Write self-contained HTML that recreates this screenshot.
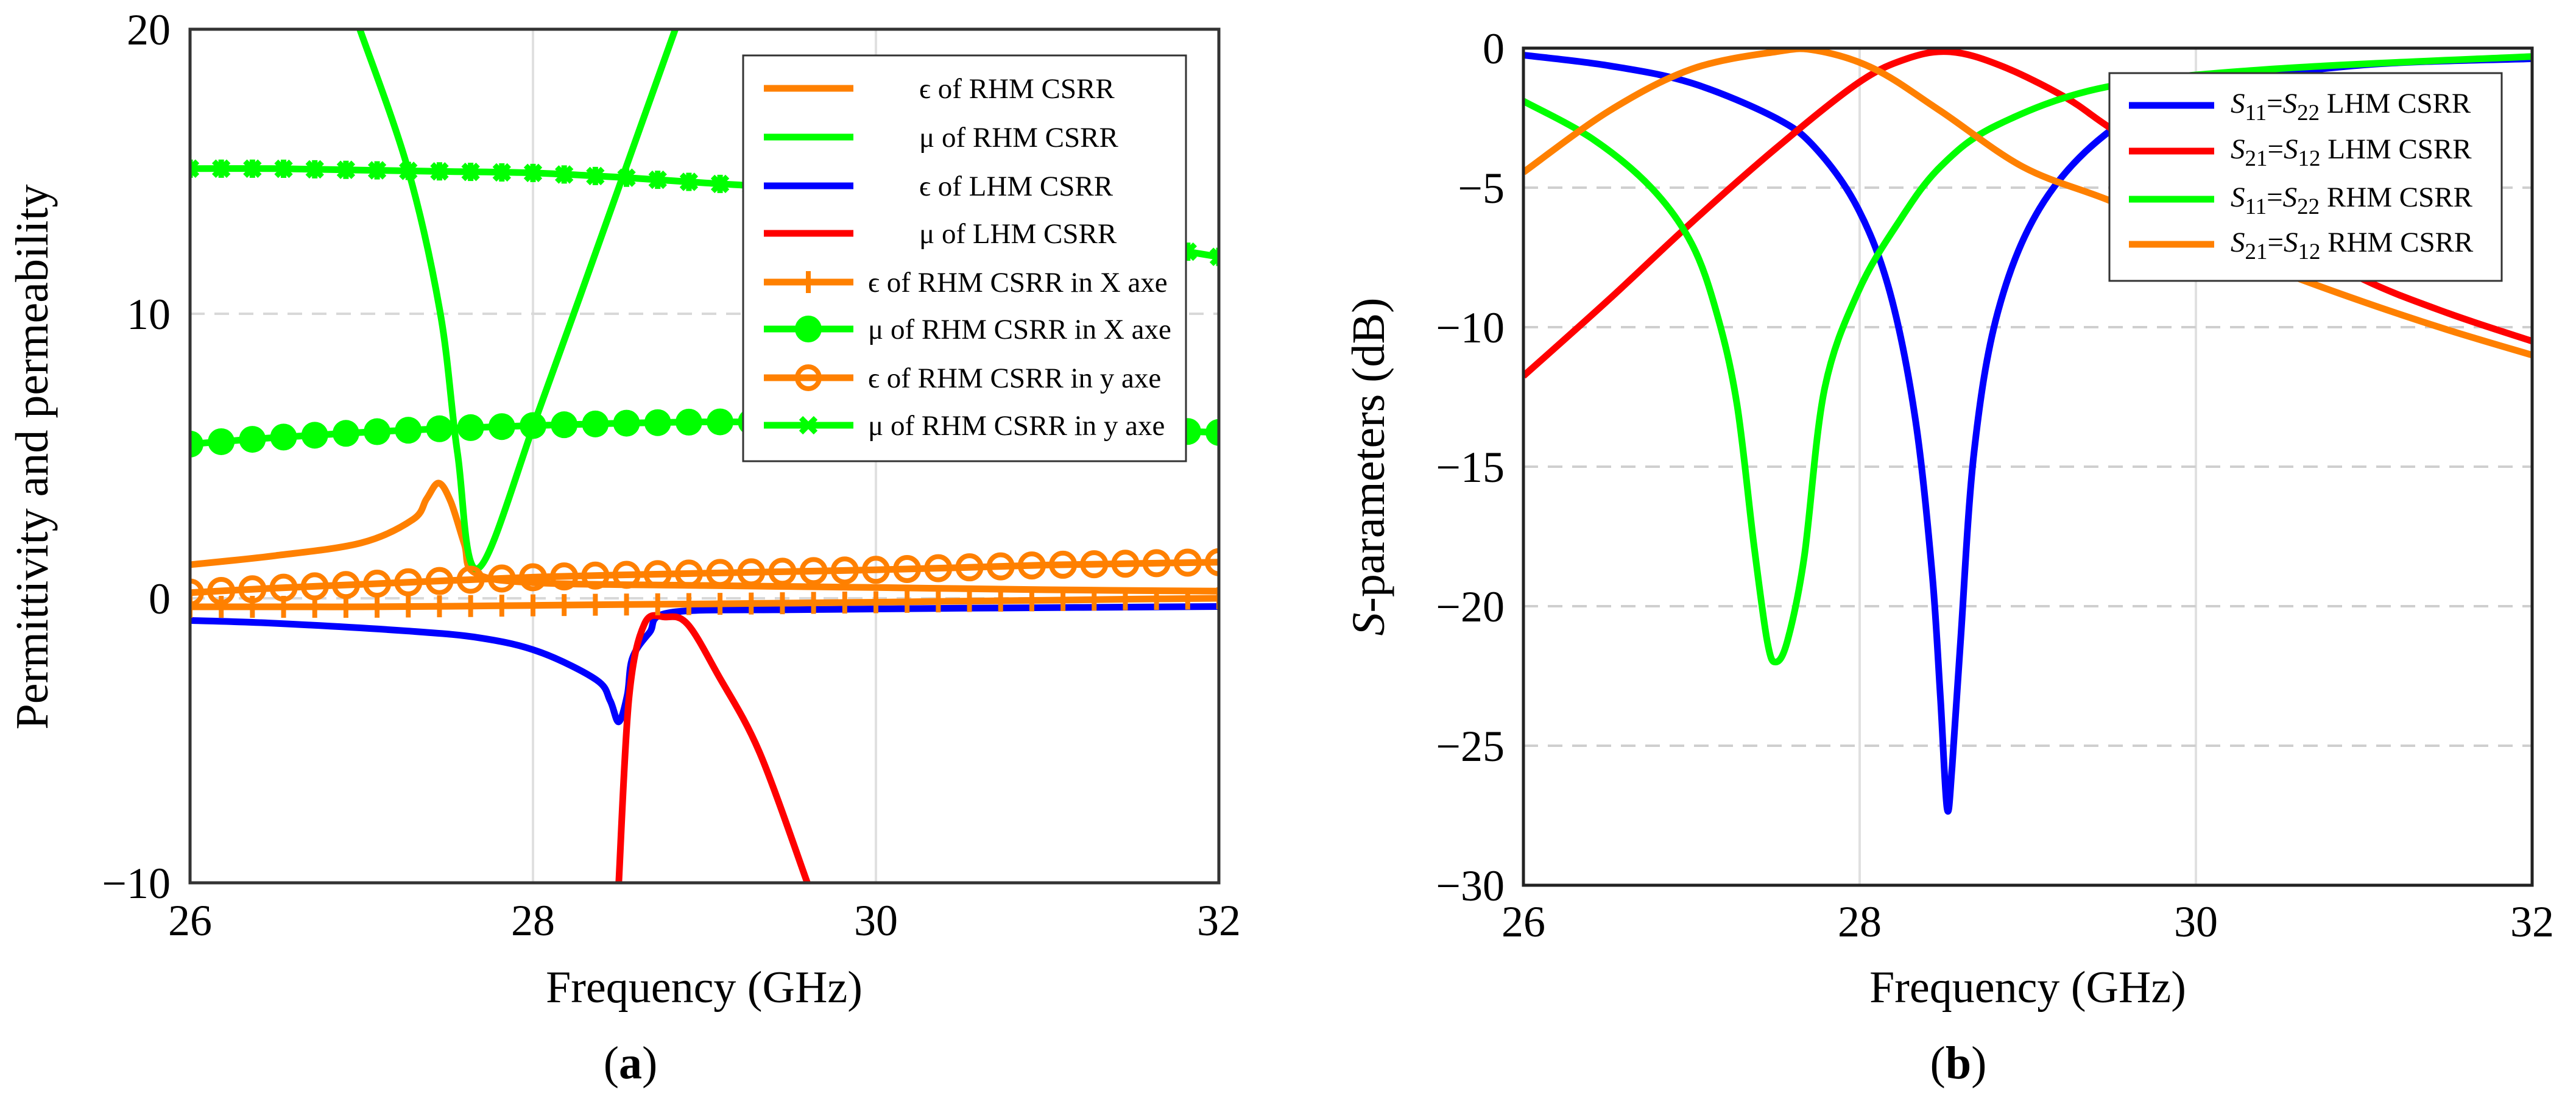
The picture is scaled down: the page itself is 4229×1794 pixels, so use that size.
<!DOCTYPE html>
<html><head><meta charset="utf-8"><style>
html,body{margin:0;padding:0;background:#fff;}
svg{display:block;font-family:"Liberation Serif",serif;}
</style></head><body>
<svg id="fig" width="4229" height="1794" viewBox="0 0 4229 1794" xmlns="http://www.w3.org/2000/svg">
<g id="pa"></g>
<g id="pb"></g>
</svg>
<script>
// ---------- Chart (a) data ----------
const aEpsRhmF = [26, 26.5, 27, 27.3, 27.38, 27.45, 27.52, 27.6, 27.66, 28, 29, 30, 31, 32];
const aEpsRhmV = [1.18, 1.5, 1.95, 2.77, 3.5, 4.05, 3.4, 1.9, 0.9, 0.55, 0.45, 0.38, 0.3, 0.25];
const aMuRhmF = [26.99, 27.27, 27.46, 27.56, 27.68, 28.04, 28.51, 28.83];
const aMuRhmV = [20, 15.1, 10, 5.1, 1.05, 6.7, 14.6, 20];
const aEpsLhmF = [26, 26.5, 27.27, 27.7, 28.04, 28.37, 28.45, 28.5, 28.55, 28.58, 28.68, 28.8, 29.5, 30.5, 32];
const aEpsLhmV = [-0.78, -0.88, -1.15, -1.4, -1.89, -2.87, -3.6, -4.34, -3.4, -2.1, -1.2, -0.5, -0.4, -0.35, -0.29];
const aMuLhmF = [28.5, 28.56, 28.65, 28.77, 28.9, 29.08, 29.32, 29.6];
const aMuLhmV = [-10, -3.5, -0.9, -0.66, -0.9, -2.7, -5.4, -10];
const aMarkF = [26, 26.5, 27, 27.5, 28, 28.5, 29, 29.5, 30, 30.5, 31, 31.5, 32];
const aEpsXV = [-0.3, -0.3, -0.3, -0.28, -0.25, -0.22, -0.2, -0.17, -0.14, -0.1, -0.07, -0.03, 0.0];
const aMuXV = [5.42, 5.65, 5.83, 5.97, 6.07, 6.15, 6.2, 6.2, 6.15, 6.08, 6.0, 5.92, 5.83];
const aEpsYV = [0.2, 0.36, 0.49, 0.62, 0.74, 0.82, 0.88, 0.94, 1.0, 1.08, 1.17, 1.22, 1.27];
const aMuYV = [15.1, 15.1, 15.05, 15.0, 14.95, 14.8, 14.6, 14.4, 14.0, 13.5, 13.0, 12.5, 12.0];
const aYTicks = [-10, 0, 10, 20];
const aXTicks = [26, 28, 30, 32];
// ---------- Chart (b) data ----------
const bS11LF = [26, 26.51, 27, 27.5, 27.74, 27.99, 28.18, 28.33, 28.43, 28.48, 28.52, 28.55, 28.6, 28.68, 28.82, 29.07, 29.46, 29.96, 30.94, 32];
const bS11LV = [-0.25, -0.63, -1.25, -2.5, -3.6, -5.75, -8.75, -13.25, -18.75, -23.25, -27.25, -25.75, -21.25, -14.5, -9.5, -5.75, -3.1, -1.5, -0.63, -0.38];
const bS21LF = [26, 26.51, 27, 27.5, 27.99, 28.28, 28.54, 28.84, 29.22, 29.5, 30, 30.5, 31, 31.5, 32];
const bS21LV = [-11.75, -9, -6.25, -3.6, -1.25, -0.38, -0.13, -0.63, -1.75, -2.9, -4.8, -6.6, -8.3, -9.5, -10.5];
const bS11RF = [26, 26.41, 26.76, 27, 27.15, 27.27, 27.37, 27.45, 27.5, 27.57, 27.67, 27.79, 27.99, 28.23, 28.48, 28.82, 29.46, 30.45, 32];
const bS11RV = [-1.9, -3.25, -5, -7, -9.5, -12.75, -17.75, -21.25, -22, -21.25, -18.25, -12.25, -8.75, -6.25, -4.25, -2.75, -1.4, -0.75, -0.3];
const bS21RF = [26, 26.51, 27, 27.5, 27.74, 28.09, 28.48, 28.97, 29.46, 30, 30.5, 31, 31.5, 32];
const bS21RV = [-4.45, -2.25, -0.75, -0.13, -0.08, -0.75, -2.25, -4.25, -5.4, -6.7, -8.0, -9.1, -10.1, -11.0];
const bYTicks = [-30, -25, -20, -15, -10, -5, 0];
const bXTicks = [26, 28, 30, 32];

const NS = "http://www.w3.org/2000/svg";
function mk(parent, tag, attrs, text) {
  const e = document.createElementNS(NS, tag);
  for (const k in attrs) e.setAttribute(k, attrs[k]);
  if (text !== undefined) e.textContent = text;
  parent.appendChild(e);
  return e;
}
function axes(x0, x1, y0, y1, fmin, fmax, vmin, vmax) {
  return {
    x: f => x0 + (f - fmin) / (fmax - fmin) * (x1 - x0),
    y: v => y1 - (v - vmin) / (vmax - vmin) * (y1 - y0),
    x0, x1, y0, y1
  };
}
function pts(ax, F, V) { return F.map((f, i) => ax.x(f).toFixed(1) + "," + ax.y(V[i]).toFixed(1)).join(" "); }
function smoothPath(ax, F, V) {
  const P = F.map((f, i) => [ax.x(f), ax.y(V[i])]);
  let d = "M" + P[0][0].toFixed(1) + "," + P[0][1].toFixed(1);
  for (let i = 0; i < P.length - 1; i++) {
    const p0 = P[Math.max(0, i - 1)], p1 = P[i], p2 = P[i + 1], p3 = P[Math.min(P.length - 1, i + 2)];
    const c1 = [p1[0] + (p2[0] - p0[0]) / 6, p1[1] + (p2[1] - p0[1]) / 6];
    const c2 = [p2[0] - (p3[0] - p1[0]) / 6, p2[1] - (p3[1] - p1[1]) / 6];
    d += "C" + c1.map(v => v.toFixed(1)).join(",") + " " + c2.map(v => v.toFixed(1)).join(",") + " " + p2[0].toFixed(1) + "," + p2[1].toFixed(1);
  }
  return d;
}

// ---------- Chart (a) ----------
const A = document.getElementById("pa");
const ax = axes(312, 2001, 48, 1449, 26, 32, -10, 20);
const clipA = mk(A, "clipPath", {id: "ca"});
mk(clipA, "rect", {x: ax.x0, y: ax.y0, width: ax.x1 - ax.x0, height: ax.y1 - ax.y0});
aXTicks.slice(1, -1).forEach(t => {
  const g = mk(A, "line", {x1: ax.x(t), x2: ax.x(t), y1: ax.y0, y2: ax.y1, stroke: "#e0e0e0", "stroke-width": 4});
  
  
});
aYTicks.slice(1, -1).forEach(t => {
  const g = mk(A, "line", {x1: ax.x0, x2: ax.x1, y1: ax.y(t), y2: ax.y(t), stroke: "#d8d8d8", "stroke-width": 4, "stroke-dasharray": "24 16"});
  
  
});
const gA = mk(A, "g", {"clip-path": "url(#ca)"});
function lineA(F, V, col, name) {
  const p = mk(gA, "path", {d: smoothPath(ax, F, V), fill: "none", stroke: col, "stroke-width": 11, "stroke-linejoin": "round"});
  
  
}
lineA(aEpsRhmF, aEpsRhmV, "#ff8000", "eps-rhm-line");
lineA(aMuRhmF, aMuRhmV, "#00ff00", "mu-rhm-line");
lineA(aEpsLhmF, aEpsLhmV, "#0000ff", "eps-lhm-line");
lineA(aMuLhmF, aMuLhmV, "#ff0000", "mu-lhm-line");
function interp(F, V, f) {
  for (let i = 0; i < F.length - 1; i++) if (f >= F[i] && f <= F[i + 1]) return V[i] + (V[i + 1] - V[i]) * (f - F[i]) / (F[i + 1] - F[i]);
  return V[V.length - 1];
}
const markStep = 6 / 33;
function markerSeries(V, col, kind, name) {
  const p = mk(gA, "path", {d: smoothPath(ax, aMarkF, V), fill: "none", stroke: col, "stroke-width": 11});
  
  
  for (let k = 0; k <= 33; k++) {
    const f = 26 + k * markStep;
    const cx = ax.x(f), cy = ax.y(interp(aMarkF, V, f));
    let m;
    if (kind === "plus") {
      m = mk(gA, "path", {d: `M${cx - 14},${cy}H${cx + 14}M${cx},${cy - 18}V${cy + 18}`, stroke: col, "stroke-width": 8});
    } else if (kind === "dot") {
      m = mk(gA, "circle", {cx, cy, r: 22, fill: col});
    } else if (kind === "ring") {
      m = mk(gA, "circle", {cx, cy, r: 19, fill: "none", stroke: col, "stroke-width": 8});
    } else {
      m = mk(gA, "path", {d: `M${cx - 12},${cy - 12}L${cx + 12},${cy + 12}M${cx + 12},${cy - 12}L${cx - 12},${cy + 12}M${cx},${cy - 15}V${cy + 15}`, stroke: col, "stroke-width": 9});
    }
    
    
  }
}
markerSeries(aEpsXV, "#ff8000", "plus", "eps-rhm-x");
markerSeries(aMuXV, "#00ff00", "dot", "mu-rhm-x");
markerSeries(aEpsYV, "#ff8000", "ring", "eps-rhm-y");
markerSeries(aMuYV, "#00ff00", "star", "mu-rhm-y");
const frA = mk(A, "rect", {x: ax.x0, y: ax.y0, width: ax.x1 - ax.x0, height: ax.y1 - ax.y0, fill: "none", stroke: "#333", "stroke-width": 5});


aYTicks.forEach(t => {
  const l = mk(A, "text", {x: 280, y: ax.y(t) + 25, "text-anchor": "end", "font-size": 72}, t < 0 ? "\u2212" + (-t) : String(t));
  
  
});
aXTicks.forEach(t => {
  const l = mk(A, "text", {x: ax.x(t), y: 1535, "text-anchor": "middle", "font-size": 72}, String(t));
  
  
});
const legA = mk(A, "g", {});


mk(legA, "rect", {x: 1220, y: 91, width: 727, height: 666, fill: "#fff", stroke: "#333", "stroke-width": 3});
const legAItems = [
  ["#ff8000", "", "\u03f5 of RHM CSRR", 1509],
  ["#00ff00", "", "\u03bc of RHM CSRR", 1509],
  ["#0000ff", "", "\u03f5 of LHM CSRR", 1509],
  ["#ff0000", "", "\u03bc of LHM CSRR", 1509],
  ["#ff8000", "plus", "\u03f5 of RHM CSRR in X axe", 1425],
  ["#00ff00", "dot", "\u03bc of RHM CSRR in X axe", 1425],
  ["#ff8000", "ring", "\u03f5 of RHM CSRR in y axe", 1425],
  ["#00ff00", "star", "\u03bc of RHM CSRR in y axe", 1425]
];
const legAY = [145, 225, 305, 383, 463, 540, 620, 698];
legAItems.forEach((it, i) => {
  const y = legAY[i];
  const e = mk(legA, "g", {});
  
  
  mk(e, "line", {x1: 1254, x2: 1401, y1: y, y2: y, stroke: it[0], "stroke-width": 11});
  const cx = 1327, cy = y;
  if (it[1] === "plus") mk(e, "path", {d: `M${cx - 14},${cy}H${cx + 14}M${cx},${cy - 18}V${cy + 18}`, stroke: it[0], "stroke-width": 8});
  if (it[1] === "dot") mk(e, "circle", {cx, cy, r: 22, fill: it[0]});
  if (it[1] === "ring") mk(e, "circle", {cx, cy, r: 18, fill: "none", stroke: it[0], "stroke-width": 8});
  if (it[1] === "star") mk(e, "path", {d: `M${cx - 12},${cy - 12}L${cx + 12},${cy + 12}M${cx + 12},${cy - 12}L${cx - 12},${cy + 12}`, stroke: it[0], "stroke-width": 9});
  mk(e, "text", {x: it[3], y: y + 16, "font-size": 47}, it[2]);
});
const ylA = mk(A, "text", {x: 0, y: 0, transform: "translate(78,750) rotate(-90)", "text-anchor": "middle", "font-size": 76}, "Permittivity and permeability");


const xlA = mk(A, "text", {x: 1156, y: 1645, "text-anchor": "middle", "font-size": 74}, "Frequency (GHz)");


const capA = mk(A, "text", {x: 1035, y: 1770, "text-anchor": "middle", "font-size": 76}, "");


mk(capA, "tspan", {}, "(");
mk(capA, "tspan", {"font-weight": "bold"}, "a");
mk(capA, "tspan", {}, ")");

// ---------- Chart (b) ----------
const B = document.getElementById("pb");
const bx = axes(2501, 4157, 79, 1453, 26, 32, -30, 0);
const clipB = mk(B, "clipPath", {id: "cb"});
mk(clipB, "rect", {x: bx.x0, y: bx.y0, width: bx.x1 - bx.x0, height: bx.y1 - bx.y0});
bXTicks.slice(1, -1).forEach(t => {
  const g = mk(B, "line", {x1: bx.x(t), x2: bx.x(t), y1: bx.y0, y2: bx.y1, stroke: "#e0e0e0", "stroke-width": 4});
  
  
});
bYTicks.slice(1, -1).forEach(t => {
  const g = mk(B, "line", {x1: bx.x0, x2: bx.x1, y1: bx.y(t), y2: bx.y(t), stroke: "#cfcfcf", "stroke-width": 4, "stroke-dasharray": "24 16"});
  
  
});
const gB = mk(B, "g", {"clip-path": "url(#cb)"});
function lineB(F, V, col, name) {
  const p = mk(gB, "path", {d: smoothPath(bx, F, V), fill: "none", stroke: col, "stroke-width": 11, "stroke-linejoin": "round"});
  
  
}
lineB(bS11LF, bS11LV, "#0000ff", "s11-lhm-line");
lineB(bS21LF, bS21LV, "#ff0000", "s21-lhm-line");
lineB(bS11RF, bS11RV, "#00ff00", "s11-rhm-line");
lineB(bS21RF, bS21RV, "#ff8000", "s21-rhm-line");
const frB = mk(B, "rect", {x: bx.x0, y: bx.y0, width: bx.x1 - bx.x0, height: bx.y1 - bx.y0, fill: "none", stroke: "#222", "stroke-width": 5});


bYTicks.forEach(t => {
  const l = mk(B, "text", {x: 2470, y: bx.y(t) + 25, "text-anchor": "end", "font-size": 72}, t < 0 ? "\u2212" + (-t) : String(t));
  
  
});
bXTicks.forEach(t => {
  const l = mk(B, "text", {x: bx.x(t), y: 1537, "text-anchor": "middle", "font-size": 72}, String(t));
  
  
});
const legB = mk(B, "g", {});


mk(legB, "rect", {x: 3463, y: 120, width: 644, height: 341, fill: "#fff", stroke: "#333", "stroke-width": 3});
const legBItems = [
  ["#0000ff", "11", "22", "LHM CSRR"],
  ["#ff0000", "21", "12", "LHM CSRR"],
  ["#00ff00", "11", "22", "RHM CSRR"],
  ["#ff8000", "21", "12", "RHM CSRR"]
];
const legBY = [173, 248, 327, 401];
legBItems.forEach((it, i) => {
  const y = legBY[i];
  const e = mk(legB, "g", {});
  
  
  mk(e, "line", {x1: 3495, x2: 3635, y1: y, y2: y, stroke: it[0], "stroke-width": 11});
  const t = mk(e, "text", {x: 3662, y: y + 12, "font-size": 47});
  mk(t, "tspan", {"font-style": "italic"}, "S");
  mk(t, "tspan", {dy: 12, "font-size": 37}, it[1]);
  mk(t, "tspan", {dy: -12}, "=");
  mk(t, "tspan", {"font-style": "italic"}, "S");
  mk(t, "tspan", {dy: 12, "font-size": 37}, it[2]);
  mk(t, "tspan", {dy: -12}, " " + it[3]);
});
const ylB = mk(B, "text", {x: 0, y: 0, transform: "translate(2272,766) rotate(-90)", "text-anchor": "middle", "font-size": 76});


mk(ylB, "tspan", {"font-style": "italic"}, "S");
mk(ylB, "tspan", {}, "-parameters (dB)");
const xlB = mk(B, "text", {x: 3329, y: 1645, "text-anchor": "middle", "font-size": 74}, "Frequency (GHz)");


const capB = mk(B, "text", {x: 3215, y: 1770, "text-anchor": "middle", "font-size": 76});


mk(capB, "tspan", {}, "(");
mk(capB, "tspan", {"font-weight": "bold"}, "b");
mk(capB, "tspan", {}, ")");
</script>
</body></html>
